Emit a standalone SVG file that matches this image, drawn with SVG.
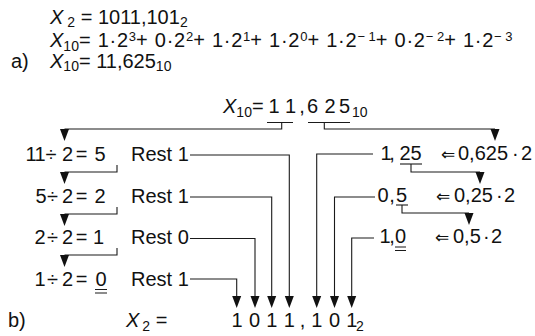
<svg xmlns="http://www.w3.org/2000/svg" width="535" height="336" viewBox="0 0 535 336">
<style>
text{font-family:"Liberation Sans",Arial,Helvetica,sans-serif;font-size:20px;fill:#111}
.i{font-style:italic}
.s{font-size:14px}
.p{font-size:13px}
.w{letter-spacing:0.75px}
.m{text-anchor:middle}
.arw{font-family:"DejaVu Sans",sans-serif;font-size:17px}
.c{fill:none;stroke:#1a1a1a;stroke-width:1.1}
.u{fill:none;stroke:#1a1a1a;stroke-width:1.1}
.ah{fill:#111}
</style>
<defs>
<path id="ah" d="M-4.5,0 L4.5,0 L0,12 Z"/>
</defs>

<g id="formula-a">
<text x="50" y="24"><tspan class="i">X</tspan><tspan class="s" dx="4" dy="3">2</tspan><tspan dy="-3"> = 1011,101</tspan><tspan class="s" dy="3">2</tspan></text>
<text x="50" y="47"><tspan class="i">X</tspan><tspan class="s" dy="3.5">10</tspan><tspan class="w" dy="-3.5">= 1·2</tspan><tspan class="p" dy="-6">3</tspan><tspan class="w" dy="6">+ 0·2</tspan><tspan class="p" dy="-6">2</tspan><tspan class="w" dy="6">+ 1·2</tspan><tspan class="p" dy="-6">1</tspan><tspan class="w" dy="6">+ 1·2</tspan><tspan class="p" dy="-6">0</tspan><tspan class="w" dy="6">+ 1·2</tspan><tspan class="p" dy="-6">− 1</tspan><tspan class="w" dy="6">+ 0·2</tspan><tspan class="p" dy="-6">− 2</tspan><tspan class="w" dy="6">+ 1·2</tspan><tspan class="p" dy="-6">− 3</tspan></text>
<text x="11" y="67.5">a)</text>
<text x="50" y="67.5"><tspan class="i">X</tspan><tspan class="s" dy="3.5">10</tspan><tspan dy="-3.5">= 11,625</tspan><tspan class="s" dy="3.5">10</tspan></text>
</g>

<g id="start-value">
<text x="223" y="112.5"><tspan class="i">X</tspan><tspan class="s" dy="4">10</tspan><tspan dy="-4">=</tspan></text>
<text class="m" x="274 290.5 302 312.5 330 344.5" y="112.5">11,625</text>
<text class="s" x="352" y="117">10</text>
<path class="u" d="M267,122.5H293M308,122.5H350"/>
</g>

<g id="div-row-1">
<text class="m" x="31 40 51 67.5 81.5 100" y="161">11÷2=5</text>
<text x="131" y="161">Rest 1</text>
</g>
<g id="div-row-2">
<text class="m" x="41 52.5 67.5 81.5 100" y="203">5÷2=2</text>
<text x="131" y="203">Rest 1</text>
</g>
<g id="div-row-3">
<text class="m" x="40 52.5 67.5 81.5 98.5" y="244">2÷2=1</text>
<text x="131" y="244">Rest 0</text>
</g>
<g id="div-row-4">
<text class="m" x="40 52.5 67.5 81.5 101" y="285.5">1÷2=0</text>
<path class="u" d="M95,289.5H107M95,293H107"/>
<text x="131" y="285.5">Rest 1</text>
</g>

<g id="mul-row-1">
<text class="m" x="386 392 405 416" y="160">1,25</text>
<path class="u" d="M400,164H422"/>
<text x="441" y="160"><tspan class="arw">⇐</tspan><tspan x="458">0,625</tspan><tspan x="512">·</tspan><tspan x="521">2</tspan></text>
</g>
<g id="mul-row-2">
<text class="m" x="383 392 401.5" y="202">0,5</text>
<path class="u" d="M396,205H408"/>
<text x="436" y="202"><tspan class="arw">⇐</tspan><tspan x="454">0,25</tspan><tspan x="496">·</tspan><tspan x="504">2</tspan></text>
</g>
<g id="mul-row-3">
<text class="m" x="385 392 400.5" y="243">1,0</text>
<path class="u" d="M395,247H406M395,250.5H406"/>
<text x="435" y="243"><tspan class="arw">⇐</tspan><tspan x="453">0,5</tspan><tspan x="483">·</tspan><tspan x="491">2</tspan></text>
</g>

<g id="result-b">
<text x="8" y="327">b)</text>
<text x="126" y="327"><tspan class="i">X</tspan><tspan class="s" dx="3" dy="4">2</tspan><tspan dy="-4"> =</tspan></text>
<text class="m" x="237 254.5 271.7 289.3 302.5 316.7 334.5 351.7" y="327">1011,101</text>
<text class="s" x="356" y="331">2</text>
</g>

<g id="connectors">
<path class="c" d="M281.7,122.5V129H64.5M324.3,122.5V129H495"/>
<path class="c" d="M117,165V172H64.5M117,207V214H64.5M117,248V255H64.5"/>
<path class="c" d="M411,164V172H480M402,205V213H469"/>
<path class="c" d="M190,155H289.3V297M190,197H271.7V297M190,238.5H255V297M190,279H236.7V297"/>
<path class="c" d="M373,154H316.7V297M375,197H334.5V297M374,238H351.7V297"/>
<g class="ah">
<use href="#ah" x="64.5" y="129"/><use href="#ah" x="495" y="129"/>
<use href="#ah" x="64.5" y="172"/><use href="#ah" x="64.5" y="214"/><use href="#ah" x="64.5" y="255"/>
<use href="#ah" x="480" y="172"/><use href="#ah" x="469" y="213"/>
<use href="#ah" x="236.7" y="296"/><use href="#ah" x="255" y="296"/><use href="#ah" x="271.7" y="296"/><use href="#ah" x="289.3" y="296"/>
<use href="#ah" x="316.7" y="296"/><use href="#ah" x="334.5" y="296"/><use href="#ah" x="351.7" y="296"/>
</g>
</g>
</svg>
